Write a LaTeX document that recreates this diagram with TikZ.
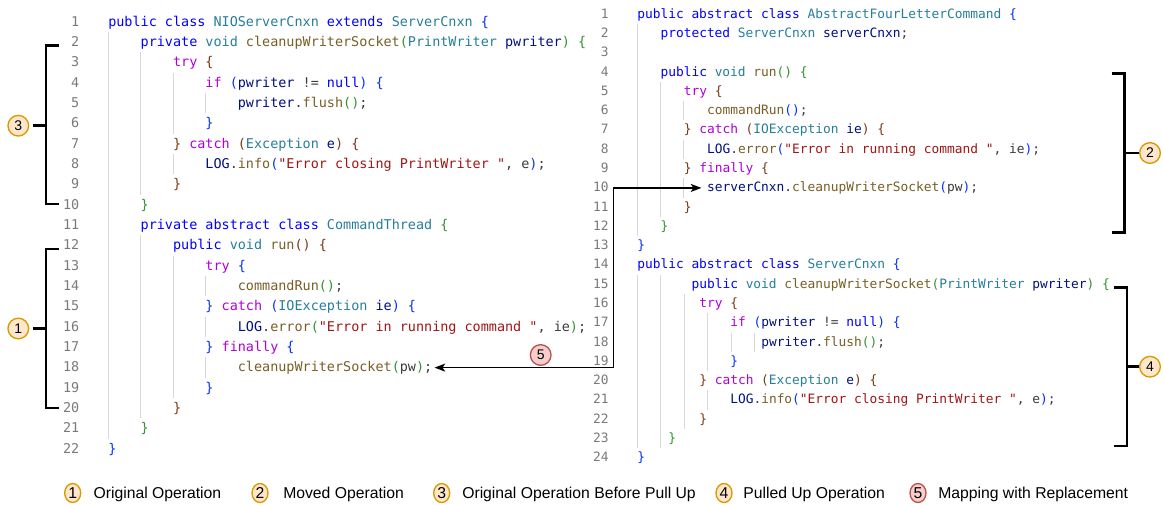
\documentclass[tikz,border=0pt]{standalone}
\usepackage{fontspec}
\setmainfont{Liberation Sans}
\setmonofont{DejaVu Sans Mono}
\usetikzlibrary{arrows.meta,shapes.geometric}
\definecolor{ckw}{HTML}{0000FF}
\definecolor{cty}{HTML}{267F99}
\definecolor{cfn}{HTML}{795E26}
\definecolor{cva}{HTML}{001080}
\definecolor{cct}{HTML}{AF00DB}
\definecolor{cstr}{HTML}{A31515}
\definecolor{cba}{HTML}{0431FA}
\definecolor{cbb}{HTML}{319331}
\definecolor{cbc}{HTML}{7B3814}
\definecolor{cpl}{HTML}{3B3B3B}
\definecolor{cln}{HTML}{7A7A7A}
\definecolor{cguide}{HTML}{D8D8D8}
\definecolor{ofill}{HTML}{FFE6CC}
\definecolor{odraw}{HTML}{D79B00}
\definecolor{rfill}{HTML}{F8CECC}
\definecolor{rdraw}{HTML}{B85450}
\newcommand\cKw[1]{\textcolor{ckw}{#1}}
\newcommand\cTy[1]{\textcolor{cty}{#1}}
\newcommand\cFn[1]{\textcolor{cfn}{#1}}
\newcommand\cVa[1]{\textcolor{cva}{#1}}
\newcommand\cCt[1]{\textcolor{cct}{#1}}
\newcommand\cSt[1]{\textcolor{cstr}{#1}}
\newcommand\cBa[1]{\textcolor{cba}{#1}}
\newcommand\cBb[1]{\textcolor{cbb}{#1}}
\newcommand\cBc[1]{\textcolor{cbc}{#1}}
\newcommand\gdL[3]{\draw[guide] (#1,{22+(#2-1.5)*20.33}) -- (#1,{22+(#3-0.5)*20.33});}
\newcommand\gdR[3]{\draw[guide] (#1,{14.3+(#2-1.5)*19.29}) -- (#1,{14.3+(#3-0.5)*19.29});}
\begin{document}
\begin{tikzpicture}[x=0.75pt,y=-0.75pt,
  lc/.style={anchor=west,inner sep=0,text=cpl,font=\fontsize{10.09pt}{12pt}\ttfamily,text height=8.1pt,text depth=2pt},
  rc/.style={anchor=west,inner sep=0,text=cpl,font=\fontsize{9.65pt}{12pt}\ttfamily,text height=7.7pt,text depth=1.9pt},
  lnL/.style={anchor=east,inner sep=0,text=cln,font=\fontsize{10.09pt}{12pt}\ttfamily,text height=8.1pt,text depth=2pt},
  lnR/.style={anchor=east,inner sep=0,text=cln,font=\fontsize{9.65pt}{12pt}\ttfamily,text height=7.7pt,text depth=1.9pt},
  guide/.style={draw=cguide,line width=0.75pt},
  brk/.style={draw=black,line width=2.2pt},
  oc/.style={circle,draw=odraw,fill=ofill,line width=1pt,minimum size=15.5pt,inner sep=0,font=\fontsize{10.5pt}{12pt}\selectfont},
  rcirc/.style={circle,draw=rdraw,fill=rfill,line width=1pt,minimum size=15.5pt,inner sep=0,font=\fontsize{10.5pt}{12pt}\selectfont},
  lgo/.style={ellipse,draw=odraw,fill=ofill,line width=1pt,minimum width=12pt,minimum height=14.25pt,inner sep=0,font=\fontsize{11.8pt}{13pt}\selectfont},
  lgr/.style={ellipse,draw=rdraw,fill=rfill,line width=1pt,minimum width=12pt,minimum height=14.25pt,inner sep=0,font=\fontsize{11.8pt}{13pt}\selectfont},
  lgt/.style={anchor=west,inner sep=0,font=\fontsize{11.8pt}{13pt}\selectfont,text height=8.5pt,text depth=0pt},
  conn/.style={draw=black,line width=1.1pt,{Stealth[length=8pt,width=6pt,inset=2pt]}-{Stealth[length=8pt,width=6pt,inset=2pt]}}
]
\useasboundingbox (0,0) rectangle (1163,504);
\fill[white] (0,0) rectangle (1163,504);

% ---------- guides left ----------
\gdL{108.5}{2}{21}
\gdL{140.9}{3}{9}
\gdL{173.3}{4}{6}
\gdL{173.3}{8}{8}
\gdL{205.7}{5}{5}
\gdL{140.9}{12}{20}
\gdL{173.3}{13}{19}
\gdL{205.7}{14}{14}
\gdL{205.7}{16}{16}
\gdL{205.7}{18}{18}
% ---------- guides right ----------
\gdR{637.5}{2}{12}
\gdR{660.5}{5}{11}
\gdR{683.5}{6}{6}
\gdR{683.5}{8}{8}
\gdR{683.5}{10}{10}
\gdR{637.5}{15}{23}
\gdR{660.5}{15}{23}
\gdR{684}{16}{22}
\gdR{707.5}{17}{19}
\gdR{707.5}{21}{21}
\gdR{731}{18}{18}
\gdR{754}{18}{18}

% ---------- line numbers ----------
\foreach \n in {1,...,22} \node[lnL] (nL\n) at (79.5,{22+(\n-1)*20.33}) {\n};
\foreach \n in {1,...,24} \node[lnR] (nR\n) at (609,{14.3+(\n-1)*19.29}) {\n};

% ---------- left code ----------
\node[lc] (L1) at (108,{22+0*20.33}) {\cKw{public} \cKw{class} \cTy{NIOServerCnxn} \cKw{extends} \cTy{ServerCnxn} \cBa{\{}};
\node[lc] (L2) at (140.4,{22+1*20.33}) {\cKw{private} \cTy{void} \cFn{cleanupWriterSocket}\cBb{(}\cTy{PrintWriter} \cVa{pwriter}\cBb{)} \cBb{\{}};
\node[lc] (L3) at (172.8,{22+2*20.33}) {\cCt{try} \cBc{\{}};
\node[lc] (L4) at (205.2,{22+3*20.33}) {\cCt{if} \cBa{(}\cVa{pwriter} != \cKw{null}\cBa{)} \cBa{\{}};
\node[lc] (L5) at (237.6,{22+4*20.33}) {\cVa{pwriter}.\cFn{flush}\cBb{()};};
\node[lc] (L6) at (205.2,{22+5*20.33}) {\cBa{\}}};
\node[lc] (L7) at (172.8,{22+6*20.33}) {\cBc{\}} \cCt{catch} \cBc{(}\cTy{Exception} \cVa{e}\cBc{)} \cBc{\{}};
\node[lc] (L8) at (205.2,{22+7*20.33}) {\cVa{LOG}.\cFn{info}\cBa{(}\cSt{"Error closing PrintWriter "}, e\cBa{)};};
\node[lc] (L9) at (172.8,{22+8*20.33}) {\cBc{\}}};
\node[lc] (L10) at (140.4,{22+9*20.33}) {\cBb{\}}};
\node[lc] (L11) at (140.4,{22+10*20.33}) {\cKw{private} \cKw{abstract} \cKw{class} \cTy{CommandThread} \cBb{\{}};
\node[lc] (L12) at (172.8,{22+11*20.33}) {\cKw{public} \cTy{void} \cFn{run}\cBc{()} \cBc{\{}};
\node[lc] (L13) at (205.2,{22+12*20.33}) {\cCt{try} \cBa{\{}};
\node[lc] (L14) at (237.6,{22+13*20.33}) {\cFn{commandRun}\cBb{()};};
\node[lc] (L15) at (205.2,{22+14*20.33}) {\cBa{\}} \cCt{catch} \cBa{(}\cTy{IOException} \cVa{ie}\cBa{)} \cBa{\{}};
\node[lc] (L16) at (237.6,{22+15*20.33}) {\cVa{LOG}.\cFn{error}\cBb{(}\cSt{"Error in running command "}, ie\cBb{)};};
\node[lc] (L17) at (205.2,{22+16*20.33}) {\cBa{\}} \cCt{finally} \cBa{\{}};
\node[lc] (L18) at (237.6,{22+17*20.33}) {\cFn{cleanupWriterSocket}\cBb{(}pw\cBb{)};};
\node[lc] (L19) at (205.2,{22+18*20.33}) {\cBa{\}}};
\node[lc] (L20) at (172.8,{22+19*20.33}) {\cBc{\}}};
\node[lc] (L21) at (140.4,{22+20*20.33}) {\cBb{\}}};
\node[lc] (L22) at (108,{22+21*20.33}) {\cBa{\}}};

% ---------- right code ----------
\node[rc] (R1) at (637,{14.3+0*19.29}) {\cKw{public} \cKw{abstract} \cKw{class} \cTy{AbstractFourLetterCommand} \cBa{\{}};
\node[rc] (R2) at (660.25,{14.3+1*19.29}) {\cKw{protected} \cTy{ServerCnxn} \cVa{serverCnxn};};
\node[rc] (R4) at (660.25,{14.3+3*19.29}) {\cKw{public} \cTy{void} \cFn{run}\cBb{()} \cBb{\{}};
\node[rc] (R5) at (683.5,{14.3+4*19.29}) {\cCt{try} \cBc{\{}};
\node[rc] (R6) at (706.75,{14.3+5*19.29}) {\cFn{commandRun}\cBa{()};};
\node[rc] (R7) at (683.5,{14.3+6*19.29}) {\cBc{\}} \cCt{catch} \cBc{(}\cTy{IOException} \cVa{ie}\cBc{)} \cBc{\{}};
\node[rc] (R8) at (706.75,{14.3+7*19.29}) {\cVa{LOG}.\cFn{error}\cBa{(}\cSt{"Error in running command "}, ie\cBa{)};};
\node[rc] (R9) at (683.5,{14.3+8*19.29}) {\cBc{\}} \cCt{finally} \cBc{\{}};
\node[rc] (R10) at (706.75,{14.3+9*19.29}) {\cVa{serverCnxn}.\cFn{cleanupWriterSocket}\cBa{(}pw\cBa{)};};
\node[rc] (R11) at (683.5,{14.3+10*19.29}) {\cBc{\}}};
\node[rc] (R12) at (660.25,{14.3+11*19.29}) {\cBb{\}}};
\node[rc] (R13) at (637,{14.3+12*19.29}) {\cBa{\}}};
\node[rc] (R14) at (637,{14.3+13*19.29}) {\cKw{public} \cKw{abstract} \cKw{class} \cTy{ServerCnxn} \cBa{\{}};
\node[rc] (R15) at (691.25,{14.3+14*19.29}) {\cKw{public} \cTy{void} \cFn{cleanupWriterSocket}\cBb{(}\cTy{PrintWriter} \cVa{pwriter}\cBb{)} \cBb{\{}};
\node[rc] (R16) at (699,{14.3+15*19.29}) {\cCt{try} \cBc{\{}};
\node[rc] (R17) at (730,{14.3+16*19.29}) {\cCt{if} \cBa{(}\cVa{pwriter} != \cKw{null}\cBa{)} \cBa{\{}};
\node[rc] (R18) at (761,{14.3+17*19.29}) {\cVa{pwriter}.\cFn{flush}\cBb{()};};
\node[rc] (R19) at (730,{14.3+18*19.29}) {\cBa{\}}};
\node[rc] (R20) at (699,{14.3+19*19.29}) {\cBc{\}} \cCt{catch} \cBc{(}\cTy{Exception} \cVa{e}\cBc{)} \cBc{\{}};
\node[rc] (R21) at (730,{14.3+20*19.29}) {\cVa{LOG}.\cFn{info}\cBa{(}\cSt{"Error closing PrintWriter "}, e\cBa{)};};
\node[rc] (R22) at (699,{14.3+21*19.29}) {\cBc{\}}};
\node[rc] (R23) at (668,{14.3+22*19.29}) {\cBb{\}}};
\node[rc] (R24) at (637,{14.3+23*19.29}) {\cBa{\}}};

% ---------- markers and brackets ----------
\node[oc] (c3) at (18.3,125.7) {3};
\draw[brk] (59,45.7) -- (46,45.7) -- (46,204) -- (59,204);
\draw[brk] ([xshift=2.5pt]c3.east) -- (46,125.7);

\node[oc] (c1) at (18.3,328.5) {1};
\draw[brk] (59,249) -- (46,249) -- (46,408) -- (59,408);
\draw[brk] ([xshift=2.5pt]c1.east) -- (46,328.5);

\node[oc] (c2) at (1150,153) {2};
\draw[brk] (1111.7,73.3) -- (1124.5,73.3) -- (1124.5,232.3) -- (1111.7,232.3);
\draw[brk] (c2.west) -- (1124.5,153);

\node[oc] (c4) at (1150,366.7) {4};
\draw[brk] (1114,287.7) -- (1127,287.7) -- (1127,446) -- (1114,446);
\draw[brk] (c4.west) -- (1127,366.7);

% ---------- mapping connector ----------
\node[rcirc] (c5) at (540.7,355) {5};
\coordinate (jog) at (619,0);
\draw[conn] ([xshift=-4pt]R10.west) -- ([xshift=-4pt]R10.west -| jog) |- ([xshift=1.5pt]L18.east);

% ---------- legend ----------
\node[lgo] (g1) at (72.7,493) {1};
\node[lgt] (t1) at (93.3,493) {Original Operation};
\node[lgo] (g2) at (260,493) {2};
\node[lgt] (t2) at (283,493) {Moved Operation};
\node[lgo] (g3) at (441.7,493) {3};
\node[lgt] (t3) at (462,493) {Original Operation Before Pull Up};
\node[lgo] (g4) at (724,493) {4};
\node[lgt] (t4) at (743,493) {Pulled Up Operation};
\node[lgr] (g5) at (918,493) {5};
\node[lgt] (t5) at (938,493) {Mapping with Replacement};
\end{tikzpicture}
\end{document}
